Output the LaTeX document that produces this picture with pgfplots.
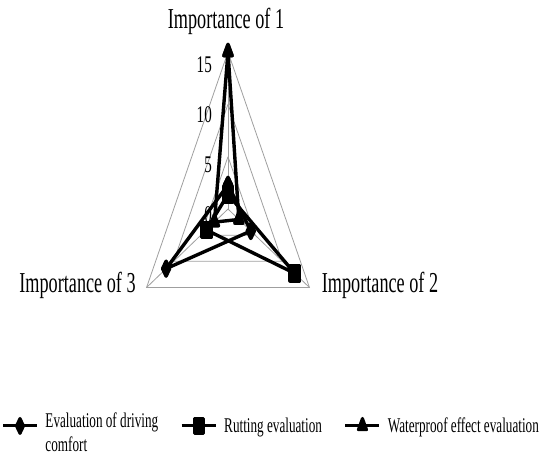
\documentclass[border=0pt]{standalone}
\usepackage{fontspec}
\setmainfont{Liberation Serif}[FakeStretch=0.63]
\usepackage{pgfplots}
\pgfplotsset{compat=1.18}
\usepackage{pgfplotstable}

% radar values: a = direction of the spoke (degrees, clockwise from top), r = value
\pgfplotstableread{
a   r
0   2.3
120 4.2
240 11.4
360 2.3
}\comfort
\pgfplotstableread{
a   r
0   1.4
120 12.3
240 4.0
360 1.4
}\rutting
\pgfplotstableread{
a   r
0   15
120 2.0
240 2.5
360 15
}\waterproof

\pgfplotsset{
  radar/.style={black, line width=3.4bp, line join=round,
    mark size=7.5bp, mark options={solid, xscale=0.63}},
  gridl/.style={gray!75, line width=0.8bp, forget plot},
}

\begin{document}
\begin{tikzpicture}
\path[use as bounding box] (0bp,0bp) rectangle (542bp,456bp);
\begin{axis}[
  x=6.27bp, y=10.47bp,
  xmin=-14, xmax=14, ymin=-8, ymax=16,
  hide axis, clip=false,
  at={(140.22bp,163.24bp)}, anchor=south west,
  legend columns=3,
  legend cell align=left,
  legend style={draw=none, fill=none, at={(0.746,-0.53)}, anchor=center,
    font=\fontsize{21}{24}\selectfont,
    /tikz/every odd column/.append style={column sep=5bp},
    /tikz/every even column/.append style={column sep=20bp}},
  legend image code/.code={\draw[#1, mark repeat=2, mark phase=2, line width=3bp]
    plot coordinates {(0bp,0bp) (17bp,0bp) (34bp,0bp)};},
]
% rings at 5, 10, 15 and the three spokes
\addplot[gridl] coordinates {(0,5) (4.330,-2.5) (-4.330,-2.5) (0,5)};
\addplot[gridl] coordinates {(0,10) (8.660,-5) (-8.660,-5) (0,10)};
\addplot[gridl] coordinates {(0,15) (12.990,-7.5) (-12.990,-7.5) (0,15)};
\addplot[gridl] coordinates {(0,0) (0,15)};
\addplot[gridl] coordinates {(0,0) (12.990,-7.5)};
\addplot[gridl] coordinates {(0,0) (-12.990,-7.5)};

\addplot[radar, mark=diamond*] table[x expr={\thisrow{r}*sin(\thisrow{a})},
  y expr={\thisrow{r}*cos(\thisrow{a})}] {\comfort};
\addlegendentry{\begin{tabular}{@{}l@{}}Evaluation of driving\\comfort\end{tabular}}
\addplot[radar, mark=square*] table[x expr={\thisrow{r}*sin(\thisrow{a})},
  y expr={\thisrow{r}*cos(\thisrow{a})}] {\rutting};
\addlegendentry{Rutting evaluation}
\addplot[radar, mark=triangle*] table[x expr={\thisrow{r}*sin(\thisrow{a})},
  y expr={\thisrow{r}*cos(\thisrow{a})}] {\waterproof};
\addlegendentry{Waterproof effect evaluation}
\end{axis}

% scale numbers along the first spoke
\begin{scope}[every node/.style={anchor=base east, inner sep=0pt, font=\fontsize{24}{28}\selectfont}]
\node at (212bp,383bp) {15};
\node at (212bp,333bp) {10};
\node at (212bp,283bp) {5};
\node at (212bp,233bp) {0};
\end{scope}

% spoke titles
\begin{scope}[every node/.style={anchor=base, inner sep=0pt, font=\fontsize{29}{34}\selectfont}]
\node at (226bp,427bp) {Importance of 1};
\node at (380bp,163bp) {Importance of 2};
\node at (77.5bp,163bp) {Importance of 3};
\end{scope}
\end{tikzpicture}
\end{document}
